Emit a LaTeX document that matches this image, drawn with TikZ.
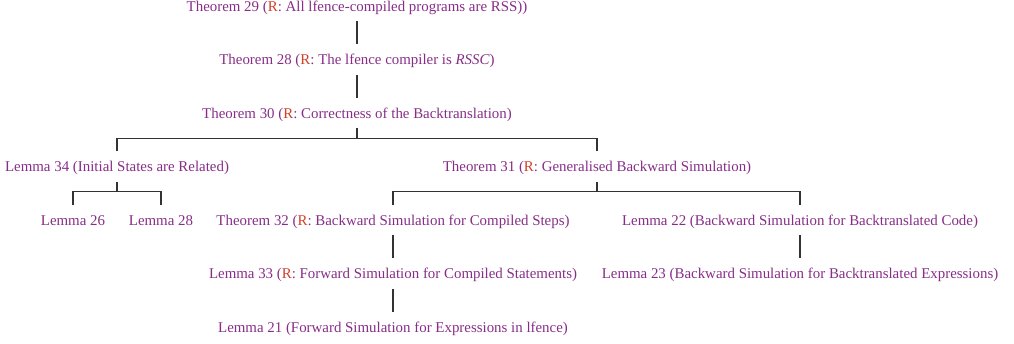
\documentclass[tikz,border=0pt]{standalone}
\usepackage{fontspec}
\setmainfont{Liberation Serif}
\usepackage{xcolor}
\definecolor{proofpurple}{RGB}{135,45,135}
\definecolor{proofred}{RGB}{210,65,40}
\newcommand{\Rmark}{\textcolor{proofred}{R}}

\begin{document}
\begin{tikzpicture}[
	res/.style={text=proofpurple,font=\fontsize{10.6}{12}\selectfont,inner sep=0pt,
		minimum height=0.75cm,text height=8pt,text depth=0.8pt},
	link/.style={draw=black!80,line width=0.75pt}]
	\useasboundingbox (0,0) rectangle (25.35,-8.575);
	%
	\node[res] (t29) at (8.925,-0.15) {Theorem 29 (\Rmark: All lfence-compiled programs are RSS))};
	\node[res] (t28) at (8.925,-1.4875) {Theorem 28 (\Rmark: The lfence compiler is \textit{RSSC})};
	\node[res] (t30) at (8.925,-2.825) {Theorem 30 (\Rmark: Correctness of the Backtranslation)};
	\node[res] (l34) at (2.925,-4.1625) {Lemma 34 (Initial States are Related)};
	\node[res] (t31) at (14.925,-4.1625) {Theorem 31 (\Rmark: Generalised Backward Simulation)};
	\node[res] (l26) at (1.825,-5.5) {Lemma 26};
	\node[res] (l28) at (4.025,-5.5) {Lemma 28};
	\node[res] (t32) at (9.825,-5.5) {Theorem 32 (\Rmark: Backward Simulation for Compiled Steps)};
	\node[res] (l22) at (20.0,-5.5) {Lemma 22 (Backward Simulation for Backtranslated Code)};
	\node[res] (l33) at (9.825,-6.8375) {Lemma 33 (\Rmark: Forward Simulation for Compiled Statements)};
	\node[res] (l23) at (20.0,-6.8375) {Lemma 23 (Backward Simulation for Backtranslated Expressions)};
	\node[res] (l21) at (9.825,-8.175) {Lemma 21 (Forward Simulation for Expressions in lfence)};
	%
	\draw[link] (t29.south) -- (t28.north);
	\draw[link] (t28.south) -- (t30.north);
	\draw[link] (t30.south) -- ++(0,-0.25) -| (l34.north);
	\draw[link] (t30.south) -- ++(0,-0.25) -| (t31.north);
	\draw[link] (l34.south) -- ++(0,-0.25) -| (l26.north);
	\draw[link] (l34.south) -- ++(0,-0.25) -| (l28.north);
	\draw[link] (t31.south) -- ++(0,-0.25) -| (t32.north);
	\draw[link] (t31.south) -- ++(0,-0.25) -| (l22.north);
	\draw[link] (t32.south) -- (l33.north);
	\draw[link] (l33.south) -- (l21.north);
	\draw[link] (l22.south) -- (l23.north);
\end{tikzpicture}
\end{document}
